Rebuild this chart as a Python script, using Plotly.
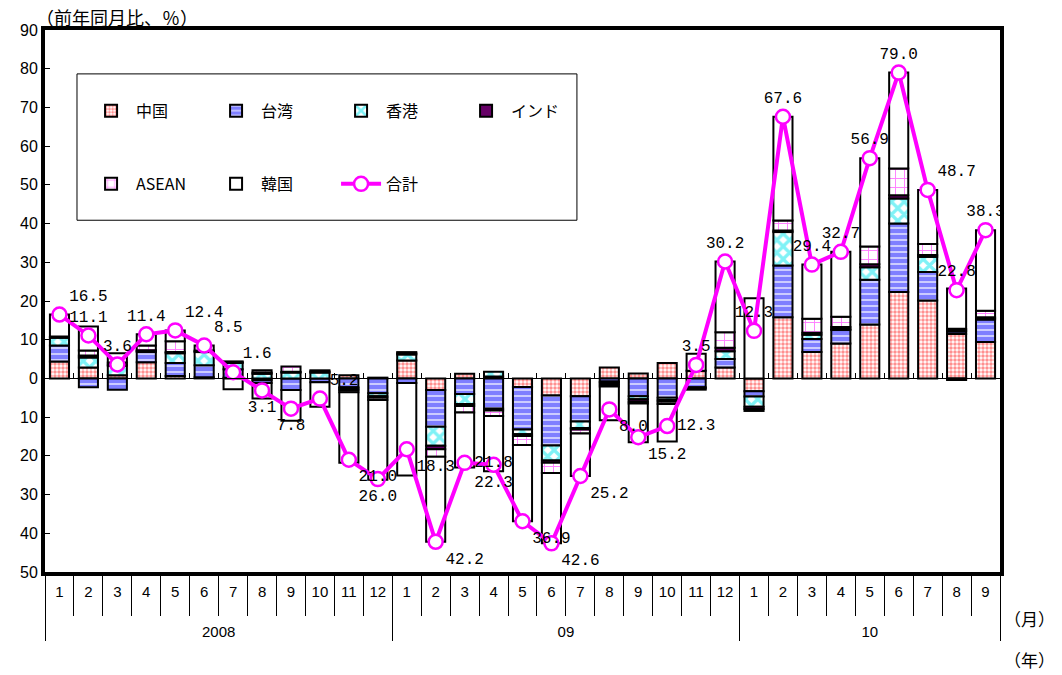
import plotly.graph_objects as go

# 年・月
years = ["2008"] * 12 + ["09"] * 12 + ["10"] * 9
months = [str(m) for m in range(1, 13)] * 2 + [str(m) for m in range(1, 10)]

# 寄与度（前年同月比、％）
china = [4.4, 2.8, 0.8, 4.2, 0.6, 0.3, 0.2, -0.5, 0.0, 0.0, 0.8, 0.2,
         4.6, -3.0, 1.2, 0.5, -2.2, -4.4, -4.6, 2.8, 1.3, 4.0, 2.0, 2.8,
         -3.3, 15.8, 6.8, 9.0, 13.9, 22.3, 20.1, 11.5, 9.4]
taiwan = [4.1, -2.3, -2.9, 2.6, 3.4, 3.1, 2.2, -0.7, -3.0, -1.0, -2.3, -3.8,
          -1.2, -9.5, -4.0, -7.8, -11.0, -12.9, -6.5, -0.8, -4.6, -5.0, -2.3, 2.2,
          -1.4, 13.4, 3.4, 3.5, 11.6, 17.7, 7.4, 0.6, 5.8]
hongkong = [2.0, 2.6, 2.5, 0.3, 2.5, 3.4, 1.6, 1.2, 1.5, 1.5, -0.3, -0.8,
            1.6, -4.9, -2.6, 1.2, -1.2, -3.9, -1.7, -0.3, -0.8, -0.6, -0.3, 2.0,
            -2.6, 8.6, 1.1, 0.3, 3.2, 6.5, 3.9, 0.3, 0.3]
india = [0.3, 0.5, 0.3, 0.2, 0.3, 0.2, 0.2, 0.3, 0.2, 0.3, -0.4, -0.4,
         0.3, -0.9, -0.5, -0.5, -0.5, -0.6, -0.4, -0.5, -0.6, -0.4, -0.3, 0.9,
         -0.6, 0.4, 0.5, 0.5, 0.8, 0.8, 0.5, 0.4, 0.3]
asean = [0.0, 1.3, 0.5, 1.2, 2.8, 0.2, 0.2, 0.6, 1.4, 0.3, -0.6, -0.6,
         0.3, -1.9, -1.7, -1.4, -2.3, -2.6, -1.0, -0.5, -0.5, -0.6, 0.0, 4.0,
         -0.5, 2.6, 3.6, 2.6, 4.6, 6.9, 2.8, -0.4, 1.7]
korea = [5.7, 6.2, 2.4, 2.9, 2.8, 1.3, -2.8, -4.0, -7.9, -6.3, -18.2, -20.6,
         -23.9, -22.0, -14.2, -14.3, -19.7, -18.2, -11.0, -8.7, -10.0, -9.7, 4.4, 18.3,
         20.7, 26.8, 14.0, 16.8, 22.8, 24.8, 14.0, 10.4, 20.8]
total = [16.5, 11.1, 3.6, 11.4, 12.4, 8.5, 1.6, -3.1, -7.8, -5.2, -21.0, -26.0,
         -18.3, -42.2, -21.8, -22.3, -36.9, -42.6, -25.2, -8.0, -15.2, -12.3, 3.5, 30.2,
         12.3, 67.6, 29.4, 32.7, 56.9, 79.0, 48.7, 22.8, 38.3]

label_pos = ["top right", "top center", "top center", "top center", "top right", "top right",
             "top right", "bottom center", "bottom center", "top right", "bottom right", "bottom center",
             "bottom right", "bottom right", "middle right", "bottom center", "bottom right", "bottom right",
             "bottom right", "bottom right", "bottom right", "middle right", "top center", "top center",
             "top center", "top center", "top center", "top center", "top center", "top center",
             "top right", "top center", "top center"]

xpos = list(range(len(months)))

# 年ごとの中央位置と境界
year_names = list(dict.fromkeys(years))
year_centers = []
year_bounds = [-0.5]
for yn in year_names:
    idx = [i for i, yv in enumerate(years) if yv == yn]
    year_centers.append((idx[0] + idx[-1]) / 2)
    year_bounds.append(idx[-1] + 0.5)

fig = go.Figure()


def add_bar(name, values, fg, shape, legend, size=6, solidity=0.5, bg="white"):
    fig.add_trace(
        go.Bar(
            x=xpos,
            y=values,
            name=name,
            legend=legend,
            marker=dict(
                color=bg,
                line=dict(color="black", width=2),
                pattern=dict(shape=shape, fgcolor=fg, bgcolor=bg, size=size,
                             solidity=solidity, fillmode="overlay"),
            ),
            width=0.66,
            hovertext=[f"{y}/{m}" for y, m in zip(years, months)],
            hoverinfo="text+y+name",
        )
    )


add_bar("中国", china, "#FF2020", ".", "legend", size=4, solidity=0.6)
add_bar("台湾", taiwan, "#0000FF", "-", "legend", size=6, solidity=0.8)
add_bar("香港", hongkong, "#00E5EE", "x", "legend", size=9, solidity=0.6)
add_bar("インド", india, "#660066", "", "legend", bg="#660066")
add_bar("ASEAN", asean, "#FF00FF", "+", "legend2", size=9, solidity=0.2)
add_bar("韓国", korea, "white", "", "legend2")

fig.add_trace(
    go.Scatter(
        x=xpos,
        y=total,
        name="合計",
        legend="legend2",
        mode="lines+markers+text",
        line=dict(color="#FF00FF", width=4),
        marker=dict(symbol="circle", size=14, color="white",
                    line=dict(color="#FF00FF", width=2.5)),
        text=[f"{abs(v):.1f}" for v in total],
        textposition=label_pos,
        textfont=dict(family="Liberation Mono, DejaVu Sans Mono, monospace",
                      size=16, color="black"),
        cliponaxis=False,
    )
)

# 0 の線、年ラベル用の補助軸
fig.add_trace(go.Scatter(x=[], y=[], xaxis="x2", showlegend=False))
fig.add_trace(go.Scatter(x=[], y=[], xaxis="x3", showlegend=False))

legend_common = dict(
    orientation="h",
    xanchor="left",
    yanchor="middle",
    bgcolor="rgba(0,0,0,0)",
    entrywidth=70,
    entrywidthmode="pixels",
    itemwidth=40,
    font=dict(family="Noto Sans CJK JP", size=16, color="black"),
    traceorder="normal",
)

fig.update_layout(
    width=1062,
    height=675,
    autosize=False,
    barmode="relative",
    plot_bgcolor="white",
    paper_bgcolor="white",
    margin=dict(l=45, r=62, t=30, b=103),
    font=dict(family="Liberation Sans, Arial", size=16, color="black"),
    legend=dict(x=0.043, y=0.851, **legend_common),
    legend2=dict(x=0.043, y=0.716, **legend_common),
    xaxis=dict(
        type="linear",
        range=[-0.5, 32.5],
        tickmode="array",
        tickvals=xpos,
        ticktext=months,
        ticks="",
        showline=True,
        linewidth=4,
        linecolor="black",
        mirror=True,
        ticklabelstandoff=3,
        tickfont=dict(family="Liberation Sans Narrow, Liberation Sans, Arial", size=15),
        showgrid=False,
        zeroline=False,
        minor=dict(tickmode="linear", tick0=-0.5, dtick=1, ticks="outside",
                   ticklen=40, tickwidth=1, tickcolor="black", showgrid=False),
    ),
    xaxis2=dict(
        overlaying="x",
        anchor="free",
        position=50 / 140,
        type="linear",
        range=[-0.5, 32.5],
        tickmode="linear",
        tick0=-0.5,
        dtick=1,
        ticks="inside",
        ticklen=5,
        tickcolor="black",
        showticklabels=False,
        showline=True,
        linewidth=1,
        linecolor="black",
        showgrid=False,
        zeroline=False,
    ),
    xaxis3=dict(
        overlaying="x",
        anchor="y",
        side="bottom",
        type="linear",
        range=[-0.5, 32.5],
        tickmode="array",
        tickvals=year_centers,
        ticktext=year_names,
        ticks="",
        ticklabelstandoff=49,
        tickfont=dict(family="Liberation Sans Narrow, Liberation Sans, Arial", size=15),
        showline=False,
        showgrid=False,
        zeroline=False,
        minor=dict(tickmode="array", tickvals=year_bounds, ticks="outside",
                   ticklen=68, tickwidth=1, tickcolor="black", showgrid=False),
    ),
    yaxis=dict(
        range=[-50, 90],
        tickmode="array",
        tickvals=list(range(-50, 100, 10)),
        ticktext=[str(abs(v)) for v in range(-50, 100, 10)],
        ticks="inside",
        ticklen=5,
        tickcolor="black",
        showline=True,
        linewidth=4,
        linecolor="black",
        mirror=True,
        showgrid=False,
        zeroline=False,
        tickfont=dict(family="Liberation Sans, Arial", size=16),
    ),
    shapes=[
        dict(type="rect", xref="paper", yref="paper",
             x0=0.0335, x1=0.557, y0=0.649, y1=0.919,
             line=dict(color="black", width=1), fillcolor="rgba(0,0,0,0)"),
    ],
    annotations=[
        dict(text="（前年同月比、％）", xref="paper", yref="paper", x=-0.012, y=1.024,
             xanchor="left", yanchor="middle", showarrow=False,
             font=dict(family="Noto Sans CJK JP", size=18)),
        dict(text="（月）", xref="paper", yref="paper", x=1.031, y=-0.085,
             xanchor="center", yanchor="middle", showarrow=False,
             font=dict(family="Noto Sans CJK JP", size=17)),
        dict(text="（年）", xref="paper", yref="paper", x=1.031, y=-0.162,
             xanchor="center", yanchor="middle", showarrow=False,
             font=dict(family="Noto Sans CJK JP", size=17)),
    ],
)

fig.write_html("out.html", config={"displayModeBar": False},
               post_script="document.body.style.margin='0';")
